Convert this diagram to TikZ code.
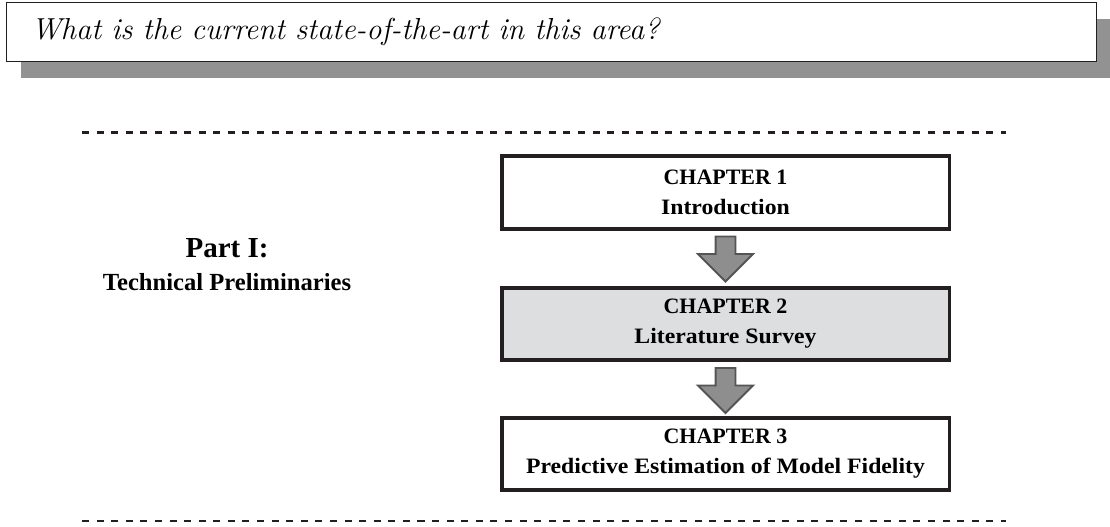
\documentclass[tikz,border=0pt]{standalone}
\usepackage{fontspec}
\newfontfamily\chapfont{Liberation Serif}
\newfontfamily\titlefont[FakeStretch=1.08]{Liberation Serif}
\usepackage{tikz}
\usetikzlibrary{calc, shapes.arrows, shadows}
\definecolor{boxline}{HTML}{231F20}
\definecolor{shadowgray}{HTML}{929292}
\definecolor{chapgray}{HTML}{DDDEE0}
\definecolor{arrowfill}{HTML}{8E8E8E}
\definecolor{arrowline}{HTML}{545454}
\tikzset{
  chapbox/.style={draw=boxline, line width=2pt, fill=white, minimum width=8.95cm, minimum height=1.45cm, align=center, inner sep=0pt, font=\chapfont\bfseries\fontsize{12.5}{17}\selectfont},
  downarrow/.style={single arrow, draw=arrowline, line width=1.1pt, fill=arrowfill, rotate=-90, anchor=tail, minimum height=0.9cm, inner xsep=0pt, inner ysep=0.18cm, single arrow head extend=0.35cm, single arrow tip angle=90},
  partline/.style={draw=boxline, line width=1.7pt, dash pattern=on 4pt off 4.3pt}
}
\newcommand{\chaptitle}[1]{{\titlefont\bfseries #1}}

\begin{document}
\begin{tikzpicture}
    \useasboundingbox (0,0) rectangle (22.2,10.54);
    \node[draw=boxline, line width=0.8pt, fill=white, minimum width=21.81cm, minimum height=1.17cm, inner xsep=0.5cm, text width=20.81cm, align=left, font=\fontsize{17.28}{20}\selectfont\itshape, drop shadow={shadow xshift=0.3cm, shadow yshift=-0.33cm, fill=shadowgray, opacity=1}] (question) at (11.03,9.9) {What is the current state-of-the-art in this area?};
    \coordinate (topL) at (1.64,7.88);
    \coordinate (topR) at (20.12,7.88);
    \coordinate (botL) at (1.64,0.12);
    \coordinate (botR) at (20.12,0.12);
    \draw[partline] (topL) -- (topR);
    \draw[partline] (botL) -- (botR);
    \node[anchor=base, font=\chapfont\bfseries\fontsize{16.5}{20}\selectfont] (part) at (4.54,5.38) {Part I:};
    \node[anchor=base, font=\chapfont\bfseries\fontsize{14}{17}\selectfont] (partname) at (4.54,4.72) {Technical Preliminaries};
    \node[chapbox] (ch1) at (14.51,6.69) {CHAPTER 1\\\chaptitle{Introduction}};
    \node[chapbox, fill=chapgray] (ch2) at (14.51,4.06) {CHAPTER 2\\\chaptitle{Literature Survey}};
    \node[chapbox] (ch3) at (14.51,1.46) {CHAPTER 3\\\chaptitle{Predictive Estimation of Model Fidelity}};
    \node[downarrow] (arr1) at ($(ch1.south)+(0,-0.1)$) {};
    \node[downarrow] (arr2) at ($(ch2.south)+(0,-0.1)$) {};
\end{tikzpicture}
\end{document}
